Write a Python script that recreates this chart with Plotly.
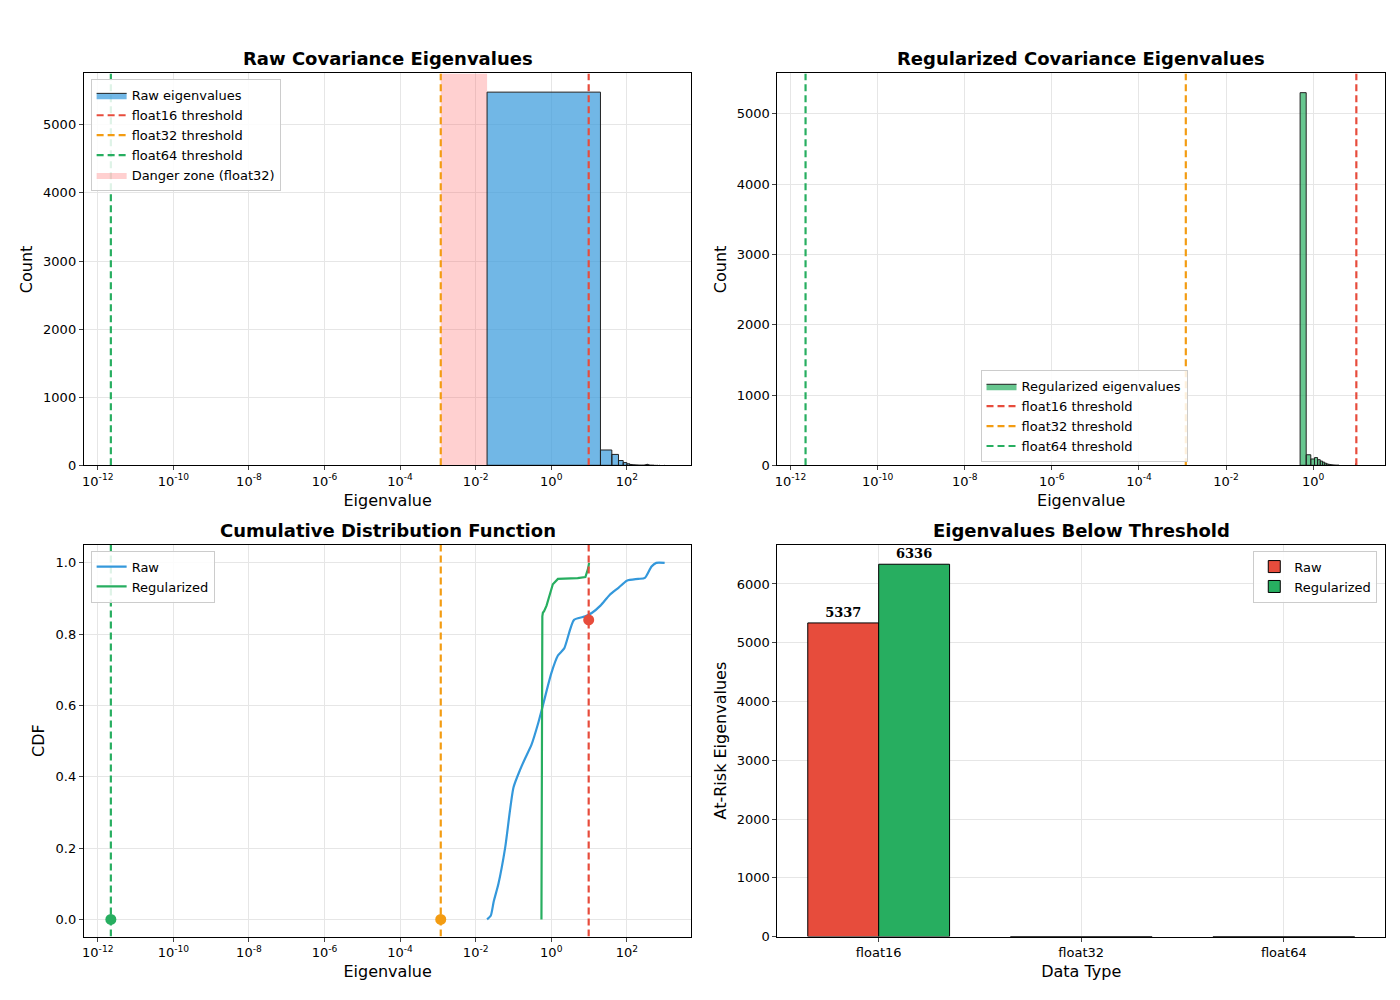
import plotly.graph_objects as go

# thresholds
thr_f16 = 9.77
thr_f32 = 1.19e-3
thr_f64 = 2.22e-12
raw_min = 0.02

raw_edges = [0.02 + 20.0 * i for i in range(51)]
raw_counts = [5480, 225, 160, 70, 40, 22, 12, 8, 6, 4, 3, 2, 2, 1, 3, 6, 12, 15, 10, 5,
              3, 2, 1, 1, 1, 1, 0, 1, 0, 1, 0, 0, 1, 0, 0, 0, 1, 0, 0, 0,
              0, 0, 0, 0, 0, 0, 0, 0, 0, 1]
reg_edges = [0.5 + 0.19 * i for i in range(51)]
reg_counts = [5300, 150, 90, 110, 80, 60, 45, 30, 20, 14, 10, 7, 5, 3, 2, 1, 1, 1, 0, 0,
              0, 0, 0, 0, 0, 0, 0, 0, 0, 0, 0, 0, 0, 0, 0, 0, 0, 0, 0, 0,
              0, 0, 0, 0, 0, 2, 5, 10, 30, 20]

raw_cdf_x = [0.02, 0.025, 0.03, 0.04, 0.06, 0.1, 0.15, 0.2, 0.3, 0.45, 0.6, 1, 1.5, 2.2, 4, 8, 12, 20, 35, 60, 100, 200, 300, 450, 600, 1000]
raw_cdf_y = [0.0, 0.01, 0.05, 0.1, 0.2, 0.37, 0.42, 0.45, 0.49, 0.55, 0.6, 0.69, 0.74, 0.76, 0.84, 0.85, 0.86, 0.88, 0.91, 0.93, 0.95, 0.955, 0.958, 0.99, 1.0, 1.0]
reg_cdf_x = [0.55, 0.555, 0.56, 0.58, 0.6, 0.65, 0.75, 0.9, 1.1, 1.5, 2.5, 5, 8, 9.5, 10]
reg_cdf_y = [0.0, 0.3, 0.6, 0.85, 0.86, 0.865, 0.88, 0.91, 0.94, 0.955, 0.955, 0.957, 0.96, 0.985, 1.0]
thr_cdf = [0.0, 0.0, 0.84]

dtypes = ["float16", "float32", "float64"]
raw_risk = [5337, 0, 0]
reg_risk = [6336, 0, 0]

RED, ORANGE, GREEN, BLUE = "#e74c3c", "#f39c12", "#27ae60", "#3498db"
FONT = "DejaVu Sans"
DASH = "7px,4px"

def bar_path(edges, counts):
    xs, ys = [], []
    for i, c in enumerate(counts):
        if c <= 0:
            continue
        l, r = edges[i], edges[i + 1]
        xs += [l, l, r, r, l, None]
        ys += [0, c, c, 0, 0, None]
    return xs, ys

fig = go.Figure()
ax = dict(showline=True, mirror=True, linecolor="black", linewidth=1, ticks="outside", ticklen=4,
          gridcolor="#e6e6e6", zeroline=False, tickfont=dict(size=13, family=FONT, color="black"))
ttl = lambda s: dict(text=s, font=dict(size=16, family=FONT), standoff=6)

logticks = [10.0 ** k for k in range(-12, 4, 2)]
logtext = ["10<sup>%d</sup>" % k for k in range(-12, 4, 2)]

# --- top left
tl_ymax = 5754
x, y = bar_path(raw_edges, raw_counts)
fig.add_trace(go.Scatter(x=[thr_f32, thr_f32, raw_min, raw_min, thr_f32], y=[0, tl_ymax, tl_ymax, 0, 0],
                         fill="toself", fillcolor="rgba(255,99,99,0.3)", line=dict(width=0),
                         mode="lines", name="Danger zone (float32)", xaxis="x", yaxis="y", legend="legend", legendrank=5))
fig.add_trace(go.Scatter(x=x, y=y, fill="toself", fillcolor="rgba(52,152,219,0.7)", mode="lines",
                         line=dict(color="#222", width=1), name="Raw eigenvalues", xaxis="x", yaxis="y", legend="legend", legendrank=1))
for v, c, n, r in [(thr_f16, RED, "float16 threshold", 2), (thr_f32, ORANGE, "float32 threshold", 3), (thr_f64, GREEN, "float64 threshold", 4)]:
    fig.add_trace(go.Scatter(x=[v, v], y=[0, tl_ymax], mode="lines", line=dict(color=c, width=2.2, dash=DASH),
                             name=n, xaxis="x", yaxis="y", legend="legend", legendrank=r))

# --- top right
tr_ymax = 5573
x, y = bar_path(reg_edges, reg_counts)
fig.add_trace(go.Scatter(x=x, y=y, fill="toself", fillcolor="rgba(39,174,96,0.7)", mode="lines",
                         line=dict(color="#222", width=1), name="Regularized eigenvalues", xaxis="x2", yaxis="y2", legend="legend2"))
for v, c, n in [(thr_f16, RED, "float16 threshold"), (thr_f32, ORANGE, "float32 threshold"), (thr_f64, GREEN, "float64 threshold")]:
    fig.add_trace(go.Scatter(x=[v, v], y=[0, tr_ymax], mode="lines", line=dict(color=c, width=2.2, dash=DASH),
                             name=n, xaxis="x2", yaxis="y2", legend="legend2"))

# --- bottom left
fig.add_trace(go.Scatter(x=raw_cdf_x, y=raw_cdf_y, mode="lines", line=dict(color=BLUE, width=2.2, shape="spline", smoothing=0.6), name="Raw",
                         xaxis="x3", yaxis="y3", legend="legend3"))
fig.add_trace(go.Scatter(x=reg_cdf_x, y=reg_cdf_y, mode="lines", line=dict(color=GREEN, width=2.2), name="Regularized",
                         xaxis="x3", yaxis="y3", legend="legend3"))
for v, c, cy in zip([thr_f64, thr_f32, thr_f16], [GREEN, ORANGE, RED], thr_cdf):
    fig.add_trace(go.Scatter(x=[v, v], y=[-0.048, 1.051], mode="lines", line=dict(color=c, width=2.2, dash=DASH),
                             showlegend=False, xaxis="x3", yaxis="y3"))
    fig.add_trace(go.Scatter(x=[v], y=[cy], mode="markers", marker=dict(color=c, size=11), showlegend=False,
                             xaxis="x3", yaxis="y3"))

# --- bottom right
for vals, n, c in [(raw_risk, "Raw", RED), (reg_risk, "Regularized", GREEN)]:
    fig.add_trace(go.Bar(x=dtypes, y=vals, name=n, marker=dict(color=c, line=dict(color="black", width=1)),
                         text=["<b>%d</b>" % v if v else "" for v in vals], textposition="outside",
                         textfont=dict(family="DejaVu Serif", size=13, color="black"), cliponaxis=False,
                         xaxis="x4", yaxis="y4", legend="legend4"))

L = [0.0521, 0.4871]
R = [0.5486, 0.9836]
T = [0.539, 0.934]
B = [0.064, 0.459]
leg = dict(bgcolor="rgba(255,255,255,0.85)", bordercolor="#ccc", borderwidth=1,
           font=dict(size=13, family=FONT, color="black"), tracegroupgap=0)

fig.update_layout(
    width=1400, height=1000, margin=dict(l=0, r=0, t=0, b=0), plot_bgcolor="white", paper_bgcolor="white",
    font=dict(family=FONT, color="black"),
    barmode="group", bargap=0.3, bargroupgap=0,
    xaxis=dict(**ax, type="log", domain=L, anchor="y", range=[-12.37, 3.71], tickvals=logticks, ticktext=logtext,
               title=ttl("Eigenvalue")),
    yaxis=dict(**ax, domain=T, anchor="x", range=[0, tl_ymax], tickvals=[0, 1000, 2000, 3000, 4000, 5000],
               title=ttl("Count")),
    xaxis2=dict(**ax, type="log", domain=R, anchor="y2", range=[-12.3, 1.65], tickvals=logticks, ticktext=logtext,
                title=ttl("Eigenvalue")),
    yaxis2=dict(**ax, domain=T, anchor="x2", range=[0, tr_ymax], tickvals=[0, 1000, 2000, 3000, 4000, 5000],
                title=ttl("Count")),
    xaxis3=dict(**ax, type="log", domain=L, anchor="y3", range=[-12.37, 3.71], tickvals=logticks, ticktext=logtext,
                title=ttl("Eigenvalue")),
    yaxis3=dict(**ax, domain=B, anchor="x3", range=[-0.048, 1.051], tickvals=[0, 0.2, 0.4, 0.6, 0.8, 1.0],
                tickformat=".1f", title=ttl("CDF")),
    xaxis4=dict(**ax, domain=R, anchor="y4", range=[-0.5, 2.5], showgrid=True, title=ttl("Data Type")),
    yaxis4=dict(**ax, domain=B, anchor="x4", range=[0, 6669], tickvals=list(range(0, 7000, 1000)),
                title=ttl("At-Risk Eigenvalues")),
    legend=dict(**leg, x=0.057, y=0.928, xanchor="left", yanchor="top"),
    legend2=dict(**leg, x=0.694, y=0.542, xanchor="left", yanchor="bottom"),
    legend3=dict(**leg, x=0.057, y=0.453, xanchor="left", yanchor="top"),
    legend4=dict(**leg, x=0.978, y=0.453, xanchor="right", yanchor="top"),
)
titles = [("Raw Covariance Eigenvalues", (L[0] + L[1]) / 2, T[1]), ("Regularized Covariance Eigenvalues", (R[0] + R[1]) / 2, T[1]),
          ("Cumulative Distribution Function", (L[0] + L[1]) / 2, B[1]), ("Eigenvalues Below Threshold", (R[0] + R[1]) / 2, B[1])]
for t, xx, yy in titles:
    fig.add_annotation(text="<b>%s</b>" % t, x=xx, y=yy + 0.002, xref="paper", yref="paper", xanchor="center",
                       yanchor="bottom", showarrow=False, font=dict(size=18, family=FONT, color="black"))

fig.write_html("out.html")
